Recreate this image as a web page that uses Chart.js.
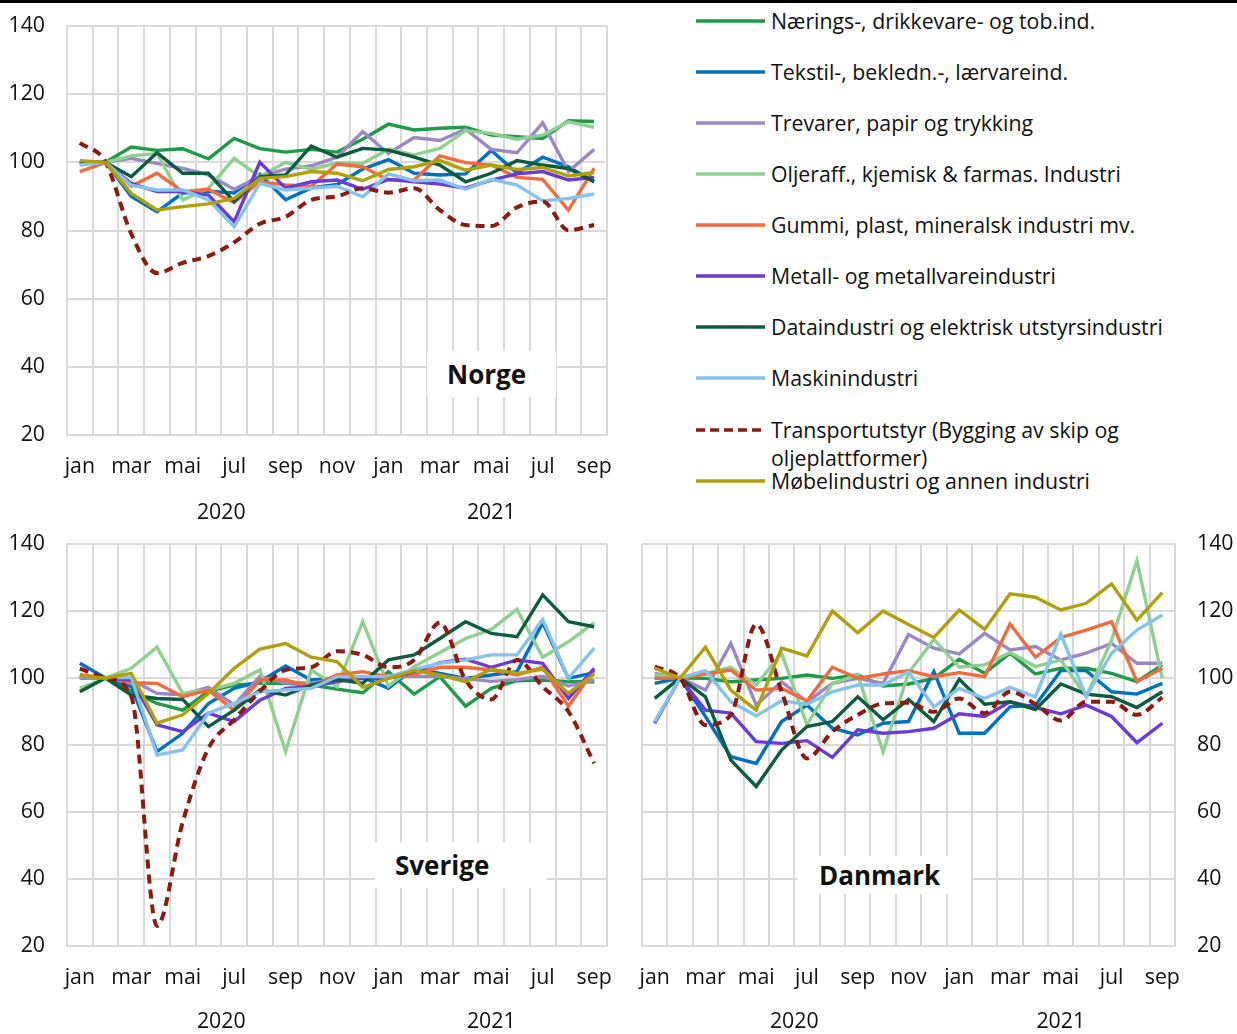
<!DOCTYPE html>
<html lang="no">
<head>
  <meta charset="UTF-8" />
  <title>Industriproduksjon - Norge, Sverige, Danmark</title>
  <style>
    body { margin: 0; background: #fff; font-family: "Open Sans", sans-serif; color: #111; }
    #wrap { position: relative; width: 1237px; height: 1034px; overflow: hidden; }
    .topline { position: absolute; left: 0; top: 0; width: 1237px; height: 3px; background: #000; z-index: 2; }
    canvas { position: absolute; }
    .tag { position: absolute; background: #fff; font-weight: 700; font-size: 26px; text-align: left; }
    .leg { position: absolute; left: 695px; font-size: 21.3px; line-height: 28px; }
    .leg svg { position: absolute; left: 0; top: 0; }
    .leg span { position: absolute; left: 76px; top: 0; white-space: nowrap; }
  </style>
</head>
<body>
<div id="wrap">
  <div class="topline"></div>
  <canvas id="cNO" width="640" height="542" style="left:0;top:-12px"></canvas>
  <canvas id="cSE" width="640" height="528" style="left:0;top:506px"></canvas>
  <canvas id="cDK" width="625" height="528" style="left:612px;top:506px"></canvas>

  <div class="tag" style="left:427px;top:351px;width:109px;height:46px;line-height:46px;padding-left:20px">Norge</div>
  <div class="tag" style="left:375px;top:842px;width:152px;height:46px;line-height:46px;padding-left:20px">Sverige</div>
  <div class="tag" style="left:797px;top:856px;width:152px;height:38px;line-height:38px;padding-left:22px">Danmark</div>

  <div id="legend"></div>
</div>

<script src="https://cdn.jsdelivr.net/npm/chart.js"></script>
<script>
  const months = ['jan','feb','mar','apr','mai','jun','jul','aug','sep','okt','nov','des',
                  'jan','feb','mar','apr','mai','jun','jul','aug','sep'];
  const years = ['2020', '2021'];
  const yearFirst = [0, 12];
  const yearLast = [11, 20];

  const seriesNames = [
    'Nærings-, drikkevare- og tob.ind.',
    'Tekstil-, bekledn.-, lærvareind.',
    'Trevarer, papir og trykking',
    'Oljeraff., kjemisk & farmas. Industri',
    'Gummi, plast, mineralsk industri mv.',
    'Metall- og metallvareindustri',
    'Dataindustri og elektrisk utstyrsindustri',
    'Maskinindustri',
    'Transportutstyr (Bygging av skip og\noljeplattformer)',
    'Møbelindustri og annen industri'
  ];
  const seriesColors = ['#1e9b47', '#0070c0', '#9b87c4', '#8fcf8f', '#f36a3c',
                        '#6a3bd6', '#0b5b3e', '#85c3ec', '#8c1a10', '#b0a00c'];

  // Norge
  const noNaer = [100, 100, 104.5, 103.5, 104, 101, 107, 104, 103, 103.8, 103, 106.8, 111.2, 109.5, 110, 110.3, 108, 107.5, 107, 112.2, 112];
  const noTeks = [99.5, 100, 90, 85.5, 91, 91.5, 91, 96.5, 89, 92.5, 93.5, 98, 100.8, 96.8, 96.3, 96.6, 103.5, 96.8, 101.5, 98.7, 94.3];
  const noTrev = [100, 100, 101.2, 99.7, 98.2, 96.3, 92.1, 95.8, 98, 99, 101.5, 109, 102.6, 107.3, 106.4, 109.7, 103.8, 102.8, 111.6, 97.3, 103.8];
  const noOlje = [100, 100, 101.9, 102.6, 89, 92.4, 101.2, 95.8, 100, 98, 99.8, 99.7, 103.8, 102.2, 104.1, 109.3, 108.5, 106.8, 108, 111.9, 110.3];
  const noGumm = [97.3, 100, 93, 96.8, 91.4, 92.1, 88.2, 94.3, 93.4, 93, 99.5, 98.7, 94.8, 94.8, 101.9, 99.9, 99.2, 95.6, 95, 86, 98.2];
  const noMeta = [100, 100, 93.8, 91.4, 91.4, 90.4, 82.6, 100, 92.4, 94.3, 94.8, 92.1, 95, 94.3, 93.6, 92.4, 94.8, 96.6, 97.3, 94.8, 95.6];
  const noData = [100, 100, 95.8, 102.8, 96.8, 96.8, 88.5, 95.8, 96.3, 104.8, 101.5, 104.1, 103.6, 101.5, 99.2, 94.3, 96.8, 100.5, 99.2, 98.2, 94.3];
  const noMask = [99.2, 100, 93.3, 91.9, 91.9, 89, 81.1, 93.8, 91.9, 92.4, 93, 89.9, 96.6, 94.6, 94.8, 92.1, 95, 93.3, 88.7, 89.4, 90.7];
  const noTran = [105.7, 100, 79, 67.5, 70.5, 72.5, 76.5, 82, 84, 89, 90, 92.4, 91.1, 92.4, 86, 81.6, 81.3, 86.8, 88.5, 80.1, 81.6];
  const noMobl = [100.5, 100, 90.9, 86, 87, 87.8, 89.4, 95.3, 95.8, 97.3, 96.8, 94.6, 97.9, 98.7, 100.5, 97.7, 99.2, 97.9, 98.5, 96, 97];

  // Sverige
  const seNaer = [100, 100, 96, 92.4, 90.4, 96, 97.9, 98.4, 98.4, 97.9, 96.7, 95.6, 101.9, 95.2, 100.4, 91.6, 96.9, 99.2, 99.4, 98.9, 98.9];
  const seTeks = [104.4, 100, 97.4, 78, 83.5, 92.4, 96.9, 98.9, 103.6, 99.4, 99.8, 100.2, 96.9, 102.9, 101.4, 99.9, 100.9, 101.9, 116.5, 99.9, 101.6];
  const seTrev = [100, 100, 99.5, 95.4, 95, 97.2, 92, 100.5, 98.5, 98.5, 99.5, 99.8, 100.5, 100.5, 100.5, 99.8, 99, 99.5, 100.5, 97.6, 99.4];
  const seOlje = [96.9, 100, 102.9, 109.2, 95.4, 96.4, 98.4, 102.4, 78, 102.4, 97.4, 116.8, 97.6, 103.4, 107.6, 111.8, 114.5, 120.5, 106.2, 110.8, 116.5];
  const seGumm = [101, 100, 98.6, 98.4, 94.4, 96.4, 90.4, 99.4, 99.4, 97.4, 100.9, 101.9, 100.4, 101.1, 103.2, 103.2, 102.4, 100.9, 103.2, 91.6, 102.4];
  const seMeta = [100.4, 100, 99.4, 86, 84, 89.5, 87, 93.4, 96.9, 97.4, 98.9, 99.9, 99.9, 101.9, 104.6, 105.6, 103.2, 105.4, 104.4, 93.9, 102.9];
  const seData = [95.9, 100, 94.9, 93.9, 93.6, 85.5, 90.4, 96.4, 94.9, 97.9, 99.6, 98.4, 105.4, 106.9, 111.8, 116.8, 113.3, 112.3, 124.8, 116.8, 115.3];
  const seMask = [100.4, 100, 100.2, 77, 78.5, 89.5, 92.4, 95.9, 96.4, 96.9, 100.4, 100.4, 100.4, 102.6, 104.4, 105.4, 106.9, 106.9, 117.5, 99.9, 108.9];
  const seTran = [102.8, 100, 94.5, 26, 57, 79, 87.5, 96, 102.4, 103.2, 108, 106.9, 103.2, 105.4, 116.5, 99.4, 93.6, 105.4, 97.4, 90, 74.5];
  const seMobl = [100.6, 100, 101.4, 86.5, 89, 95.4, 102.9, 108.6, 110.3, 106.2, 104.9, 97.2, 99.9, 102.2, 100.9, 98.9, 102.6, 101.4, 102.6, 95.4, 101.2];

  // Danmark
  const dkNaer = [100, 100, 99.9, 98.9, 99.4, 99.9, 100.9, 99.9, 100.9, 97.6, 98.2, 99.9, 105.6, 101.4, 107.4, 101.2, 102.9, 102.9, 101.4, 98.9, 103.9];
  const dkTeks = [98.4, 100, 88.5, 76.5, 74.5, 87, 91.9, 85, 83, 86.5, 87, 101.9, 83.5, 83.5, 91.4, 91.9, 102.2, 102.2, 95.9, 95.2, 98.4];
  const dkTrev = [101.4, 100, 96.4, 110.3, 91.9, 98.9, 92.9, 98.4, 99.9, 98.4, 113, 108.9, 107.2, 113.3, 108.4, 109.4, 105.4, 107.4, 110.3, 104.4, 104.4];
  const dkOlje = [101, 100, 101.4, 103.2, 97.9, 107.4, 86, 98.4, 100.9, 78, 101.5, 111.5, 103.2, 103.9, 107.6, 103.4, 105.4, 94.4, 111.3, 135, 99.9];
  const dkGumm = [99.9, 100, 101.2, 102.4, 96.4, 96.9, 93.2, 103.2, 99.9, 101.2, 102.2, 100.4, 101.6, 100.4, 116.1, 106.2, 112.1, 114.3, 116.8, 98.9, 102.9];
  const dkMeta = [86.5, 100, 90.4, 89.5, 81, 80.5, 81.3, 76.3, 84.5, 83.5, 84, 85, 89.3, 88.5, 92.9, 91.2, 89.3, 91.9, 88.5, 80.7, 86.5];
  const dkData = [93.9, 100, 94.4, 75.5, 67.6, 78.5, 85.5, 87, 94.4, 87.5, 93.6, 87, 99.6, 92.2, 92.9, 90.6, 98.2, 95.2, 94.4, 91.2, 95.9];
  const dkMask = [87, 100, 102.2, 92.9, 88.7, 93.2, 92.2, 95.9, 97.9, 97.9, 101.9, 91.4, 96.9, 93.9, 97.2, 94.4, 113.1, 94.4, 107.4, 114.3, 118.8];
  const dkTran = [103.4, 100, 86, 89, 116.1, 96, 76, 84, 89, 92.4, 92.6, 89.9, 93.9, 89.5, 95.9, 92.2, 87.3, 92.9, 92.9, 89, 94.2];
  const dkMobl = [102.9, 100, 109.2, 96.4, 90.4, 108.9, 106.6, 120, 113.5, 120, 116, 112.1, 120.3, 114.5, 125.1, 124.1, 120.3, 122.3, 128.1, 117.3, 125.5];

  const DASHED = 8; // transportutstyr
  const gridColor = '#d9d9d9';
  const fontSize = 21.3;

  Chart.defaults.font.family = "'Open Sans', sans-serif";
  Chart.defaults.font.size = fontSize;
  Chart.defaults.color = '#111';

  // årstall under månedene
  const yearPlugin = {
    id: 'years',
    afterDraw(chart, args, opts) {
      const x = chart.scales.x;
      const ctx = chart.ctx;
      ctx.save();
      ctx.font = fontSize + "px 'Open Sans', sans-serif";
      ctx.fillStyle = '#111';
      ctx.textAlign = 'center';
      ctx.textBaseline = 'middle';
      years.forEach((y, i) => {
        const cx = (x.getPixelForValue(yearFirst[i]) + x.getPixelForValue(yearLast[i])) / 2;
        ctx.fillText(y, cx, opts.y);
      });
      ctx.restore();
    }
  };

  function lagPanel(id, rows, side, padding, yW, xH, yearY) {
    return new Chart(document.getElementById(id), {
      type: 'line',
      data: {
        labels: months,
        datasets: rows.map((d, i) => ({
          label: seriesNames[i],
          data: d,
          borderColor: seriesColors[i],
          backgroundColor: seriesColors[i],
          borderWidth: i === DASHED ? 4 : 3.4,
          borderDash: i === DASHED ? [9, 6] : [],
          cubicInterpolationMode: i === DASHED ? 'monotone' : 'default',
          tension: 0,
          pointRadius: 0,
          fill: false,
          order: rows.length - i
        }))
      },
      options: {
        responsive: false,
        animation: false,
        layout: { padding: padding },
        plugins: {
          legend: { display: false },
          tooltip: { enabled: false },
          years: { y: yearY }
        },
        scales: {
          x: {
            offset: true,
            grid: { offset: true, color: gridColor, lineWidth: 2, drawTicks: false },
            border: { color: gridColor, width: 2 },
            ticks: {
              autoSkip: false, maxRotation: 0, minRotation: 0, padding: 19,
              callback: (v, i) => (i % 2 === 0 ? months[i] : '')
            },
            afterFit: s => { s.height = xH; }
          },
          y: {
            position: side,
            min: 20, max: 140,
            grid: { color: gridColor, lineWidth: 2, drawTicks: false },
            border: { color: gridColor, width: 2 },
            ticks: { stepSize: 20, padding: 22 },
            afterFit: s => { s.width = yW; }
          }
        }
      },
      plugins: [yearPlugin]
    });
  }

  lagPanel('cNO', [noNaer, noTeks, noTrev, noOlje, noGumm, noMeta, noData, noMask, noTran, noMobl],
    'left', { left: 0, top: 38, right: 33, bottom: 0 }, 67, 95, 525);
  lagPanel('cSE', [seNaer, seTeks, seTrev, seOlje, seGumm, seMeta, seData, seMask, seTran, seMobl],
    'left', { left: 0, top: 38, right: 33, bottom: 0 }, 67, 88, 516);
  lagPanel('cDK', [dkNaer, dkTeks, dkTrev, dkOlje, dkGumm, dkMeta, dkData, dkMask, dkTran, dkMobl],
    'right', { left: 30, top: 38, right: 0, bottom: 0 }, 62, 88, 516);

  // tegnforklaring (HTML)
  const legendY = [21, 72, 123, 174, 225, 276, 327, 378, 430, 481];
  const legend = document.getElementById('legend');
  seriesNames.forEach((name, i) => {
    const div = document.createElement('div');
    div.className = 'leg';
    div.style.top = (legendY[i] - 14) + 'px';
    const dash = i === DASHED ? ' stroke-dasharray="9 5"' : '';
    div.innerHTML = `<svg width="72" height="28"><line x1="1" y1="14" x2="70" y2="14" stroke="${seriesColors[i]}" stroke-width="3.5"${dash}/></svg>` +
      `<span>${name.replace('\n', '<br>')}</span>`;
    legend.appendChild(div);
  });
</script>
</body>
</html>
